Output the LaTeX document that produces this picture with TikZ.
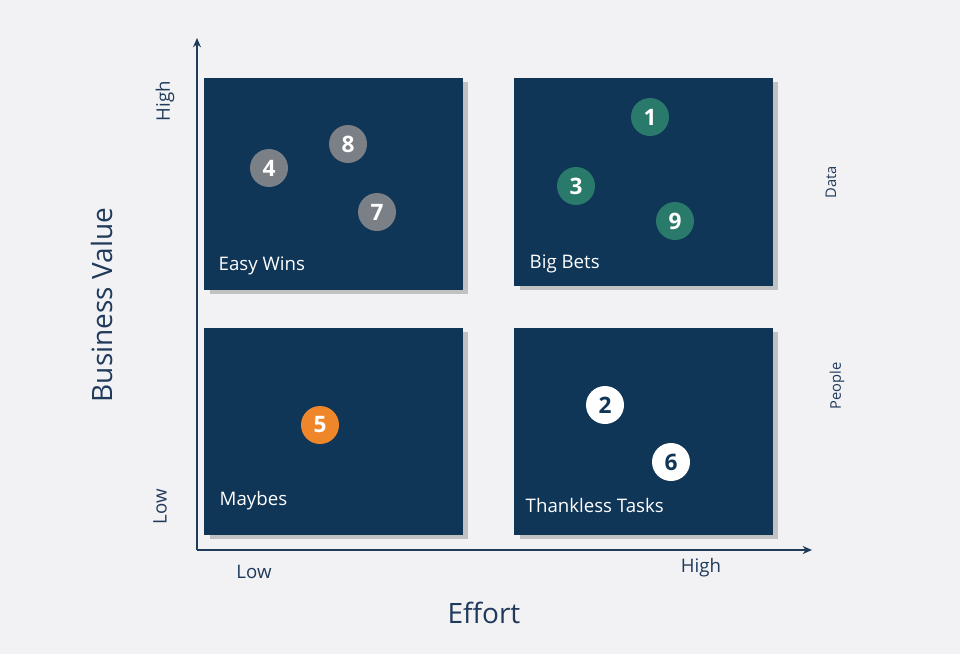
\documentclass[tikz,border=0pt]{standalone}
\usepackage{fontspec}
\setmainfont{Open Sans}
\usetikzlibrary{arrows.meta,shadows}
\definecolor{bg}{HTML}{F2F2F4}
\definecolor{navy}{HTML}{0F3557}
\definecolor{axis}{HTML}{1F3A5A}
\definecolor{dot gray}{HTML}{7B7F86}
\definecolor{dot teal}{HTML}{2A7A6C}
\definecolor{dot orange}{HTML}{F0862A}
\tikzset{
 quad/.style={fill=navy,draw=none,drop shadow={shadow xshift=4pt,shadow yshift=-3pt,opacity=0.35,fill=black!60}},
 qlabel/.style={anchor=west,text=white,font=\fontsize{14}{16}\selectfont},
 dot/.style={circle,minimum size=28.5pt,inner sep=0pt,font=\bfseries\fontsize{17}{18}\selectfont,text=white},
 ax/.style={draw=axis,line width=1.2pt,-{Stealth[length=7pt,width=6pt]}},
 axlab/.style={text=axis,font=\fontsize{14}{16}\selectfont}
}
\begin{document}
\begin{tikzpicture}[x=0.75pt,y=-0.75pt]
\fill[bg] (0,0) rectangle (960,654);
\useasboundingbox (0,0) rectangle (960,654);
\node[quad,minimum width=194pt,minimum height=159pt,anchor=north west,inner sep=0pt] (ew) at (204,78) {};
\node[quad,minimum width=194pt,minimum height=156pt,anchor=north west,inner sep=0pt] (bb) at (514,78) {};
\node[quad,minimum width=194pt,minimum height=155pt,anchor=north west,inner sep=0pt] (mb) at (204,328) {};
\node[quad,minimum width=194pt,minimum height=155pt,anchor=north west,inner sep=0pt] (tt) at (514,328) {};
\node[qlabel] (lew) at (214,266) {Easy Wins};
\node[qlabel] (lbb) at (525,264) {Big Bets};
\node[qlabel] (lmb) at (215,501) {Maybes};
\node[qlabel] (ltt) at (521,505) {Thankless Tasks};
\coordinate (o) at (197,550);
\coordinate (ytop) at (197,38);
\coordinate (xend) at (812,550);
\draw[ax] (o) -- (ytop);
\draw[ax] (o) -- (xend);
\node[axlab,rotate=90] (yh) at (165,101) {High};
\node[axlab,rotate=90] (yl) at (160,507) {Low};
\node[axlab,rotate=90,font=\fontsize{21}{24}\selectfont] (bv) at (102,305) {Business Value};
\node[axlab] (xl) at (254,572) {Low};
\node[axlab] (xh) at (701,568) {High};
\node[axlab,font=\fontsize{21}{24}\selectfont] (ef) at (484,613) {Effort};
\node[axlab,rotate=90,font=\fontsize{11}{13}\selectfont] (d) at (831,182) {Data};
\node[axlab,rotate=90,font=\fontsize{11}{13}\selectfont] (p) at (837,386) {People};
\node[dot,fill=dot gray] (n4) at (269,168) {4};
\node[dot,fill=dot gray] (n8) at (348,144) {8};
\node[dot,fill=dot gray] (n7) at (377,212) {7};
\node[dot,fill=dot teal] (n1) at (650,117) {1};
\node[dot,fill=dot teal] (n3) at (576,186) {3};
\node[dot,fill=dot teal] (n9) at (675,221) {9};
\node[dot,fill=dot orange] (n5) at (320,425) {5};
\node[dot,fill=white,text=navy] (n2) at (605,405) {2};
\node[dot,fill=white,text=navy] (n6) at (671,462) {6};
\end{tikzpicture}
\end{document}
